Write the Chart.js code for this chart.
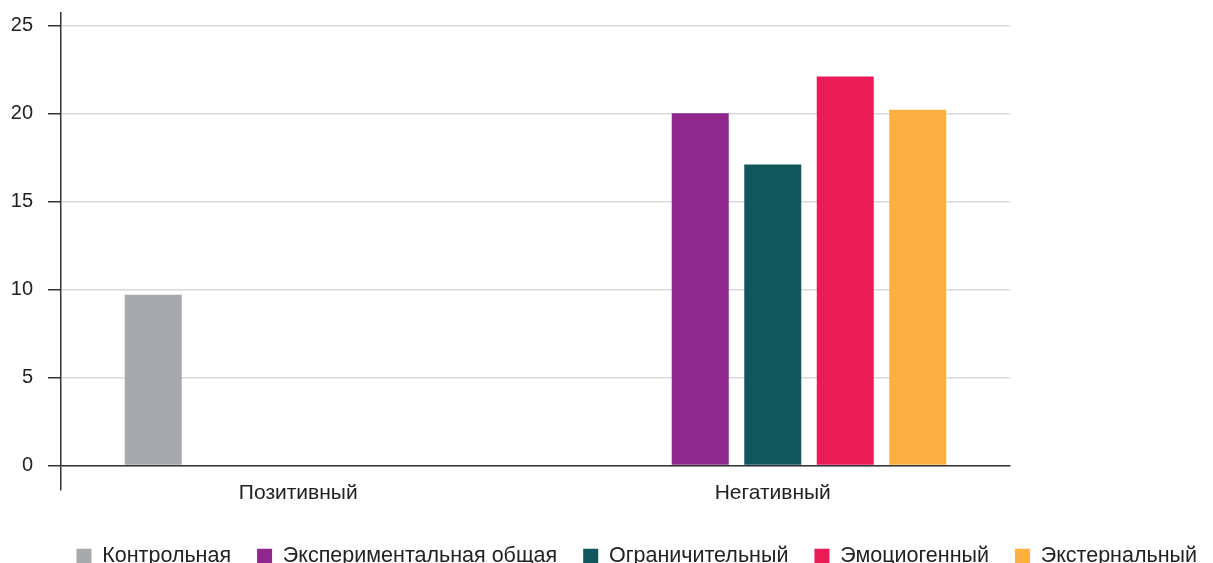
<!DOCTYPE html>
<html>
<head>
<meta charset="utf-8">
<script src="https://cdn.jsdelivr.net/npm/chart.js@4/dist/chart.umd.min.js"></script>
<style>
  html, body { margin: 0; padding: 0; background: #fff; }
  #wrap { width: 1213px; height: 563px; }
</style>
</head>
<body>
<div id="wrap"><canvas id="chart"></canvas></div>
<script>
const categories = ['Позитивный', 'Негативный'];
const seriesNames = ['Контрольная', 'Экспериментальная общая', 'Ограничительный', 'Эмоциогенный', 'Экстернальный'];
const control = [9.7, null];
const experimental = [null, 20];
const restrictive = [null, 17.1];
const emotiogenic = [null, 22.1];
const external = [null, 20.2];
const yTicks = [0, 5, 10, 15, 20, 25];

const colors = ['#a8a9ac', '#90278d', '#11565c', '#ed1a58', '#fcb042'];
const values = [control, experimental, restrictive, emotiogenic, external];

const axisColor = '#333333';
const gridColor = '#d9d9d9';
const textColor = '#222222';
const fontFamily = 'Liberation Sans';

const datasets = values.map((v, i) => ({
    label: seriesNames[i],
    data: v,
    backgroundColor: colors[i],
    borderWidth: 0,
    categoryPercentage: 0.764,
    barPercentage: 0.786
}));

new Chart(document.getElementById('chart'), {
    type: 'bar',
    data: { labels: categories, datasets: datasets },
    options: {
        responsive: true,
        maintainAspectRatio: false,
        animation: false,
        layout: { padding: { left: 11, right: -10, top: 13, bottom: -14 } },
        plugins: {
            tooltip: { enabled: false },
            legend: {
                position: 'bottom',
                align: 'end',
                labels: {
                    color: textColor,
                    font: { family: fontFamily, size: 21.5 },
                    boxWidth: 15,
                    boxHeight: 15,
                    padding: 26
                }
            }
        },
        scales: {
            x: {
                afterFit: s => { s.height = 54; },
                grid: {
                    drawOnChartArea: false,
                    tickLength: 25,
                    lineWidth: 1.5,
                    tickColor: ctx => ctx.index === 0 ? axisColor : 'rgba(0,0,0,0)'
                },
                border: { color: axisColor, width: 1.5 },
                ticks: {
                    color: textColor,
                    padding: -10,
                    font: { family: fontFamily, size: 21 }
                }
            },
            y: {
                min: 0,
                max: 25.7,
                afterFit: s => { s.width = 50; s.paddingTop = 0; s.paddingBottom = 0; },
                afterBuildTicks: s => { s.ticks = yTicks.map(v => ({ value: v })); },
                grid: {
                    color: gridColor,
                    lineWidth: 1.5,
                    tickLength: 13,
                    tickColor: axisColor
                },
                border: { color: axisColor, width: 1.5 },
                ticks: {
                    color: textColor,
                    padding: 15,
                    font: { family: fontFamily, size: 20 }
                }
            },
            y2: {
                position: 'right',
                display: true,
                afterFit: s => { s.width = 213; },
                grid: { display: false },
                border: { display: false },
                ticks: { display: false }
            }
        }
    }
});
</script>
</body>
</html>
